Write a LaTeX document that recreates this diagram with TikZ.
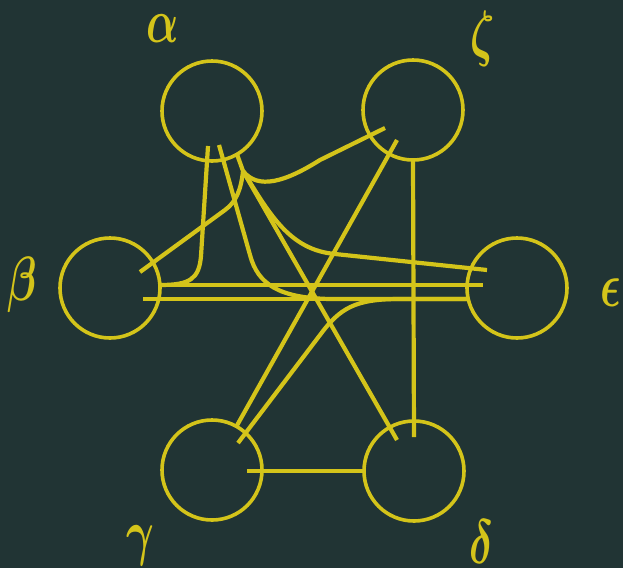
\documentclass[tikz,border=0pt]{standalone}
\usepackage{graphicx}
\usetikzlibrary{calc}
\definecolor{bgc}{HTML}{213434}
\definecolor{ylw}{HTML}{D4C41A}
\newcommand{\biglab}[1]{\scalebox{4.25}[6.25]{\boldmath$#1$}}
\begin{document}
\begin{tikzpicture}[x=1pt,y=-1pt,
  ball/.style={circle,draw=ylw,line width=3.6pt,minimum size=100pt,inner sep=0pt,outer sep=0pt},
  link/.style={draw=ylw,line width=4.2pt,line join=round},
  lbl/.style={text=ylw,inner sep=0pt}]
\fill[bgc] (0,0) rectangle (623,568);
\useasboundingbox (0,0) rectangle (623,568);
% circles
\node[ball] (a) at (212,111) {};
\node[ball] (z) at (413,110) {};
\node[ball] (b) at (110,288) {};
\node[ball] (e) at (517,288) {};
\node[ball] (g) at (212,470) {};
\node[ball] (d) at (414,471) {};
% named end points
\coordinate (J)  at ($(a.center)+(31,60)$);
\coordinate (aA) at ($(a.center)+(-4,35)$);
\coordinate (aB) at ($(a.center)+(7,34)$);
\coordinate (bU) at ($(b.center)+(50,-3)$);
\coordinate (bL) at ($(b.center)+(33,11)$);
\coordinate (bD) at ($(b.center)+(30,-16)$);
\coordinate (eU) at ($(e.center)+(-34,-3)$);
\coordinate (eL) at ($(e.center)+(-49,11)$);
\coordinate (eC) at ($(e.center)+(-30,-18)$);
\coordinate (zA) at ($(z.center)+(-28,18)$);
\coordinate (zG) at ($(z.center)+(-16,30)$);
\coordinate (dA) at ($(d.center)+(-17,-31)$);
\coordinate (dZ) at ($(d.center)+(0,-34)$);
\coordinate (gE) at ($(g.center)+(26,-27)$);
\coordinate (gD) at ($(g.center)+(35,1)$);
% beta - epsilon
\draw[link] (bU) -- (eU);
\draw[link] (bL) -- (eL);
% alpha - beta
\draw[link] (aA) -- (201,256) .. controls (199,279) and (190,285) .. (bU);
% alpha - epsilon (lower)
\draw[link] (aB) -- (250,255) .. controls (258,285) and (280,298) .. (330,299) -- (eL);
% junction at alpha
\draw[link] (a.-60) -- (J);
\draw[link] (bD) -- (225,210) .. controls (236,202) and (241,190) .. (J);
\draw[link] (J) .. controls (258,190) and (285,182) .. (320,160) -- (zA);
\draw[link] (J) -- (dA);
\draw[link] (J) .. controls (270,215) and (290,250) .. (335,254) -- (eC);
% zeta - gamma
\draw[link] (zG) -- (g);
% gamma - epsilon
\draw[link] (gE) -- (320,335) .. controls (340,308) and (355,299) .. (400,299) -- (eL);
% zeta - delta
\draw[link] (z.south) -- (dZ);
% gamma - delta
\draw[link] (gD) -- (d.west);
% labels
\node[lbl] (la) at (163,29)  {\biglab{\alpha}};
\node[lbl] (lz) at (483,39)  {\biglab{\zeta}};
\node[lbl] (lb) at (22,285)  {\biglab{\beta}};
\node[lbl] (le) at (611,293) {\biglab{\epsilon}};
\node[lbl] (lg) at (140,546) {\biglab{\gamma}};
\node[lbl] (ld) at (481,542) {\biglab{\delta}};
\end{tikzpicture}
\end{document}
